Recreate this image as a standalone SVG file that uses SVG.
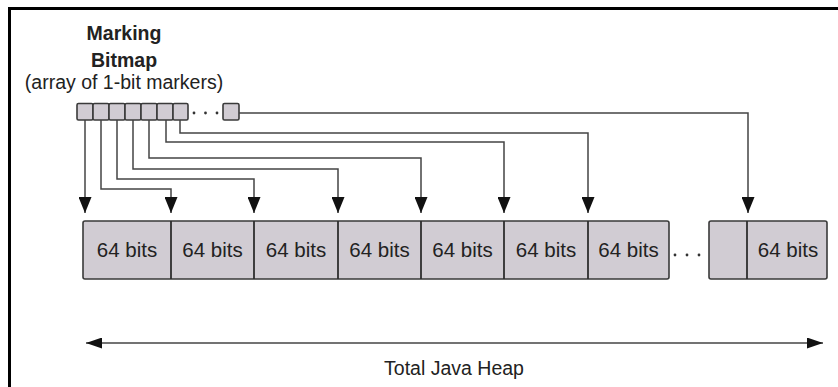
<svg xmlns="http://www.w3.org/2000/svg" width="838" height="387" viewBox="0 0 838 387">
  <style>
    .frame { fill: none; stroke: #000; stroke-width: 3; }
    .cell { fill: #d1ccd3; stroke: #3a3a3a; stroke-width: 1.6; }
    .div { stroke: #2e2e2e; stroke-width: 1.8; }
    .wire { fill: none; stroke: #444; stroke-width: 1.5; }
    .dot { fill: #333; }
    .title { font-family: "Liberation Sans", Arial, sans-serif; font-weight: bold; font-size: 19.5px; fill: #222; text-anchor: middle; }
    .sub { font-family: "Liberation Sans", Arial, sans-serif; font-size: 19.5px; fill: #222; text-anchor: middle; }
    .bits { font-family: "Liberation Sans", Arial, sans-serif; font-size: 20.5px; fill: #222; text-anchor: middle; }
  </style>
  <defs>
    <marker id="head" markerUnits="userSpaceOnUse" markerWidth="16" markerHeight="13" refX="16" refY="6.5" orient="auto">
      <path d="M0,0 L16,6.5 L0,13 z" fill="#111"/>
    </marker>
    <marker id="span" markerUnits="userSpaceOnUse" markerWidth="16" markerHeight="11" refX="16" refY="5.5" orient="auto-start-reverse">
      <path d="M0,0 L16,5.5 L0,11 z" fill="#111"/>
    </marker>
  </defs>

  <rect width="838" height="387" fill="#fff"/>
  <!-- outer frame (right and bottom edges fall outside the canvas) -->
  <rect class="frame" x="9.5" y="8.5" width="840" height="400"/>

  <!-- marking bitmap -->
  <g id="bitmap">
    <text class="title" x="124" y="40">Marking</text>
    <text class="title" x="124" y="67">Bitmap</text>
    <text class="sub" x="124" y="89">(array of 1-bit markers)</text>
    <rect class="cell" x="77" y="103.5" width="16" height="16.5" rx="1.5"/>
    <rect class="cell" x="93" y="103.5" width="16" height="16.5" rx="1.5"/>
    <rect class="cell" x="109" y="103.5" width="16" height="16.5" rx="1.5"/>
    <rect class="cell" x="125" y="103.5" width="16" height="16.5" rx="1.5"/>
    <rect class="cell" x="141" y="103.5" width="16" height="16.5" rx="1.5"/>
    <rect class="cell" x="157" y="103.5" width="16" height="16.5" rx="1.5"/>
    <rect class="cell" x="173" y="103.5" width="15" height="16.5" rx="1.5"/>
    <circle class="dot" cx="194" cy="113" r="1.4"/>
    <circle class="dot" cx="205.5" cy="113" r="1.4"/>
    <circle class="dot" cx="217" cy="113" r="1.4"/>
    <rect class="cell" x="223" y="103.5" width="16" height="16.5" rx="1.5"/>
  </g>

  <!-- java heap -->
  <g id="heap">
    <rect class="cell" x="83" y="221" width="586" height="58" rx="2"/>
    <line class="div" x1="171" y1="221" x2="171" y2="279"/>
    <line class="div" x1="254" y1="221" x2="254" y2="279"/>
    <line class="div" x1="338" y1="221" x2="338" y2="279"/>
    <line class="div" x1="421" y1="221" x2="421" y2="279"/>
    <line class="div" x1="504" y1="221" x2="504" y2="279"/>
    <line class="div" x1="588" y1="221" x2="588" y2="279"/>
    <text class="bits" x="127" y="257">64 bits</text>
    <text class="bits" x="212.5" y="257">64 bits</text>
    <text class="bits" x="296" y="257">64 bits</text>
    <text class="bits" x="379.5" y="257">64 bits</text>
    <text class="bits" x="462.5" y="257">64 bits</text>
    <text class="bits" x="546" y="257">64 bits</text>
    <text class="bits" x="628.5" y="257">64 bits</text>
    <circle class="dot" cx="675" cy="255" r="1.4"/>
    <circle class="dot" cx="687" cy="255" r="1.4"/>
    <circle class="dot" cx="699" cy="255" r="1.4"/>
    <rect class="cell" x="709" y="221" width="118" height="58" rx="2"/>
    <line class="div" x1="747" y1="221" x2="747" y2="279"/>
    <text class="bits" x="788" y="257">64 bits</text>
  </g>

  <!-- bitmap-to-heap connectors -->
  <g id="connectors">
    <path class="wire" marker-end="url(#head)" d="M85,120 V213"/>
    <path class="wire" marker-end="url(#head)" d="M101,120 V189 H171 V213"/>
    <path class="wire" marker-end="url(#head)" d="M117,120 V179 H254 V213"/>
    <path class="wire" marker-end="url(#head)" d="M133,120 V169 H338 V213"/>
    <path class="wire" marker-end="url(#head)" d="M149,120 V158 H421 V213"/>
    <path class="wire" marker-end="url(#head)" d="M166,120 V142 H504 V213"/>
    <path class="wire" marker-end="url(#head)" d="M180,120 V133 H588 V213"/>
    <path class="wire" marker-end="url(#head)" d="M239,113 H748 V213"/>
  </g>

  <!-- total heap span -->
  <g id="span-label">
    <line class="wire" x1="86" y1="343" x2="823" y2="343" marker-start="url(#span)" marker-end="url(#span)"/>
    <text class="sub" x="454" y="375">Total Java Heap</text>
  </g>
</svg>
